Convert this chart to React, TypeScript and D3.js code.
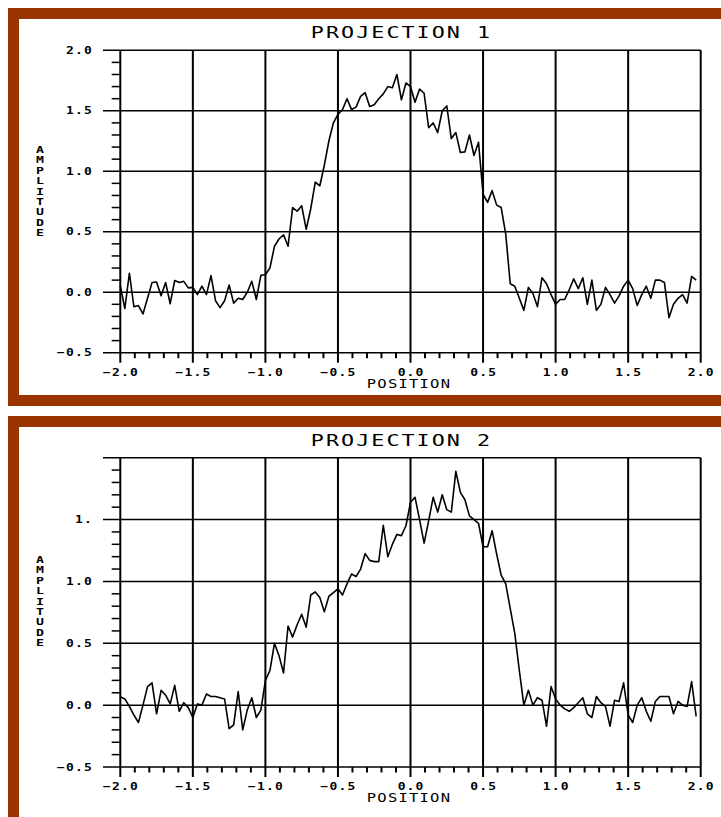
import React from 'react';
import * as d3 from 'd3';

// ---------- data ----------
const X_START = -2;
const X_STEP = 1 / 32;

const PROJ1 = [
  0.055, -0.135, 0.157, -0.12, -0.11, -0.18, -0.05, 0.08, 0.085, -0.03,
  0.08, -0.095, 0.097, 0.08, 0.09, 0.036, 0.04, -0.02, 0.05, -0.02,
  0.137, -0.07, -0.127, -0.07, 0.06, -0.09, -0.05, -0.06, 0.0, 0.09,
  -0.06, 0.14, 0.145, 0.2, 0.38, 0.44, 0.475, 0.38, 0.7, 0.67,
  0.715, 0.52, 0.69, 0.91, 0.88, 1.05, 1.25, 1.4, 1.47, 1.51,
  1.6, 1.51, 1.53, 1.62, 1.65, 1.535, 1.55, 1.6, 1.64, 1.7,
  1.69, 1.8, 1.59, 1.73, 1.7, 1.57, 1.68, 1.645, 1.36, 1.4,
  1.32, 1.5, 1.54, 1.27, 1.32, 1.155, 1.16, 1.3, 1.13, 1.24,
  0.81, 0.743, 0.84, 0.72, 0.7, 0.48, 0.07, 0.05, -0.05, -0.15,
  0.04, -0.01, -0.12, 0.12, 0.07, -0.02, -0.1, -0.06, -0.06, 0.02,
  0.11, 0.03, 0.12, -0.1, 0.1, -0.15, -0.1, 0.04, -0.02, -0.09,
  -0.03, 0.05, 0.1, 0.03, -0.11, -0.02, 0.05, -0.05, 0.1, 0.1,
  0.08, -0.21, -0.1, -0.05, -0.02, -0.09, 0.13, 0.1,
];

const PROJ2 = [
  0.067, 0.05, -0.01, -0.08, -0.14, 0.0, 0.15, 0.18, -0.07, 0.12,
  0.08, 0.01, 0.16, -0.05, 0.02, -0.02, -0.1, 0.01, 0.0, 0.09,
  0.07, 0.07, 0.06, 0.05, -0.19, -0.16, 0.11, -0.2, -0.04, 0.06,
  -0.1, -0.04, 0.2, 0.28, 0.5, 0.4, 0.26, 0.64, 0.55, 0.65,
  0.735, 0.63, 0.89, 0.915, 0.87, 0.754, 0.88, 0.91, 0.94, 0.89,
  0.98, 1.06, 1.04, 1.1, 1.225, 1.17, 1.16, 1.16, 1.454, 1.2,
  1.3, 1.38, 1.37, 1.45, 1.64, 1.68, 1.5, 1.31, 1.49, 1.68,
  1.56, 1.7, 1.58, 1.56, 1.89, 1.72, 1.66, 1.53, 1.5, 1.47,
  1.28, 1.28, 1.41, 1.22, 1.05, 0.98, 0.78, 0.58, 0.28, 0.0,
  0.12, 0.0, 0.06, 0.04, -0.17, 0.15, 0.05, 0.0, -0.03, -0.05,
  -0.02, 0.02, 0.06, -0.07, -0.1, 0.07, 0.02, -0.01, -0.17, 0.04,
  0.03, 0.18, -0.08, -0.14, 0.0, 0.06, -0.05, -0.13, 0.03, 0.07,
  0.07, 0.07, -0.07, 0.03, 0.0, -0.01, 0.19, -0.09,
];

const X_TICKS = [-2, -1.5, -1, -0.5, 0, 0.5, 1, 1.5, 2];
const X_TICK_LABELS = ['\u22122.0', '\u22121.5', '\u22121.0', '\u22120.5', '0.0', '0.5', '1.0', '1.5', '2.0'];
const Y_TICKS = [-0.5, 0, 0.5, 1, 1.5, 2];
const Y_TICK_LABELS_1 = ['\u22120.5', '0.0', '0.5', '1.0', '1.5', '2.0'];
const Y_TICK_LABELS_2 = ['\u22120.5', '0.0', '0.5', '1.0', '1.', ''];
const TITLES = ['PROJECTION 1', 'PROJECTION 2'];
const X_LABEL = 'POSITION';
const Y_LABEL = 'AMPLITUDE';

// ---------- layout ----------
const W = 721;
const H = 817;
const BROWN = '#993300';
const FONT = "'DejaVu Sans Mono', 'Liberation Mono', monospace";
const PLOT_LEFT = 120.3;
const PLOT_RIGHT = 700.7;
const GRID_LEFT = 103;

const PANELS = [
  { frameTop: 8, frameBottom: 406, plotTop: 50.3, plotBottom: 352.7, titleY: 38, ylabTop: 153, data: PROJ1, ylabels: Y_TICK_LABELS_1, title: TITLES[0] },
  { frameTop: 416, frameBottom: 840, plotTop: 457.7, plotBottom: 767, titleY: 446, ylabTop: 563, data: PROJ2, ylabels: Y_TICK_LABELS_2, title: TITLES[1] },
];

function WideText({ x, y, sx, anchor, size, weight, spacing, children }: any) {
  return (
    <text
      transform={`translate(${x},${y}) scale(${sx},1)`}
      textAnchor={anchor}
      fontFamily={FONT}
      fontSize={size}
      fontWeight={weight}
      letterSpacing={spacing}
      fill="#000"
    >
      {children}
    </text>
  );
}

function Panel({ p }: { p: typeof PANELS[number] }) {
  const x = d3.scaleLinear().domain([-2, 2]).range([PLOT_LEFT, PLOT_RIGHT]);
  const y = d3.scaleLinear().domain([-0.5, 2]).range([p.plotBottom, p.plotTop]);
  const line = d3
    .line<number>()
    .x((_, i) => x(X_START + i * X_STEP))
    .y((d) => y(d));
  const minorY = d3.range(-5, 21).map((k) => k / 10).filter((v) => Math.abs(v * 2 - Math.round(v * 2)) > 1e-6);
  const minorX = d3.range(-20, 21).map((k) => k / 10).filter((v) => Math.abs(v * 2 - Math.round(v * 2)) > 1e-6);
  const letters = Y_LABEL.split('');
  return (
    <g>
      <rect x={8} y={p.frameTop} width={760} height={p.frameBottom - p.frameTop} fill={BROWN} />
      <rect x={19} y={p.frameTop + 11} width={760} height={p.frameBottom - p.frameTop - 22} fill="#fff" />
      <WideText x={401.5} y={p.titleY} sx={1.45} anchor="middle" size={15} weight="normal" spacing={1.4}>
        {p.title}
      </WideText>
      {/* horizontal grid */}
      {Y_TICKS.map((v) => (
        <line key={'h' + v} x1={GRID_LEFT} x2={PLOT_RIGHT} y1={y(v)} y2={y(v)} stroke="#000" strokeWidth={1.5} />
      ))}
      {/* vertical grid */}
      {X_TICKS.map((v) => (
        <line key={'v' + v} x1={x(v)} x2={x(v)} y1={p.plotTop} y2={p.plotBottom + 10} stroke="#000" strokeWidth={2} />
      ))}
      {minorY.map((v) => (
        <line key={'my' + v} x1={111.7} x2={PLOT_LEFT} y1={y(v)} y2={y(v)} stroke="#000" strokeWidth={1.5} />
      ))}
      {minorX.map((v) => (
        <line key={'mx' + v} x1={x(v)} x2={x(v)} y1={p.plotBottom} y2={p.plotBottom + 5.5} stroke="#000" strokeWidth={2} />
      ))}
      {Y_TICKS.map((v, i) => (
        <WideText key={'yl' + v} x={93} y={y(v) + 3.6} sx={1.3} anchor="end" size={10} weight="bold" spacing={0.9}>
          {p.ylabels[i]}
        </WideText>
      ))}
      {X_TICKS.map((v, i) => (
        <WideText key={'xl' + v} x={x(v) + 0.6} y={p.plotBottom + 23} sx={1.3} anchor="middle" size={10} weight="bold" spacing={0.9}>
          {X_TICK_LABELS[i]}
        </WideText>
      ))}
      <WideText x={409} y={p.plotBottom + 35} sx={1.35} anchor="middle" size={11.5} weight="normal" spacing={0.9}>
        {X_LABEL}
      </WideText>
      {letters.map((c, k) => (
        <WideText key={'a' + k} x={40} y={p.ylabTop + k * 10.4} sx={1.5} anchor="middle" size={8.8} weight="bold" spacing={0}>
          {c}
        </WideText>
      ))}
      <path d={line(p.data) || ''} fill="none" stroke="#000" strokeWidth={1.6} strokeLinejoin="round" />
    </g>
  );
}

export default function App() {
  return (
    <svg width={W} height={H} style={{ position: 'absolute', left: 0, top: 0, background: '#fff' }}>
      {PANELS.map((p, i) => (
        <Panel key={i} p={p} />
      ))}
    </svg>
  );
}
